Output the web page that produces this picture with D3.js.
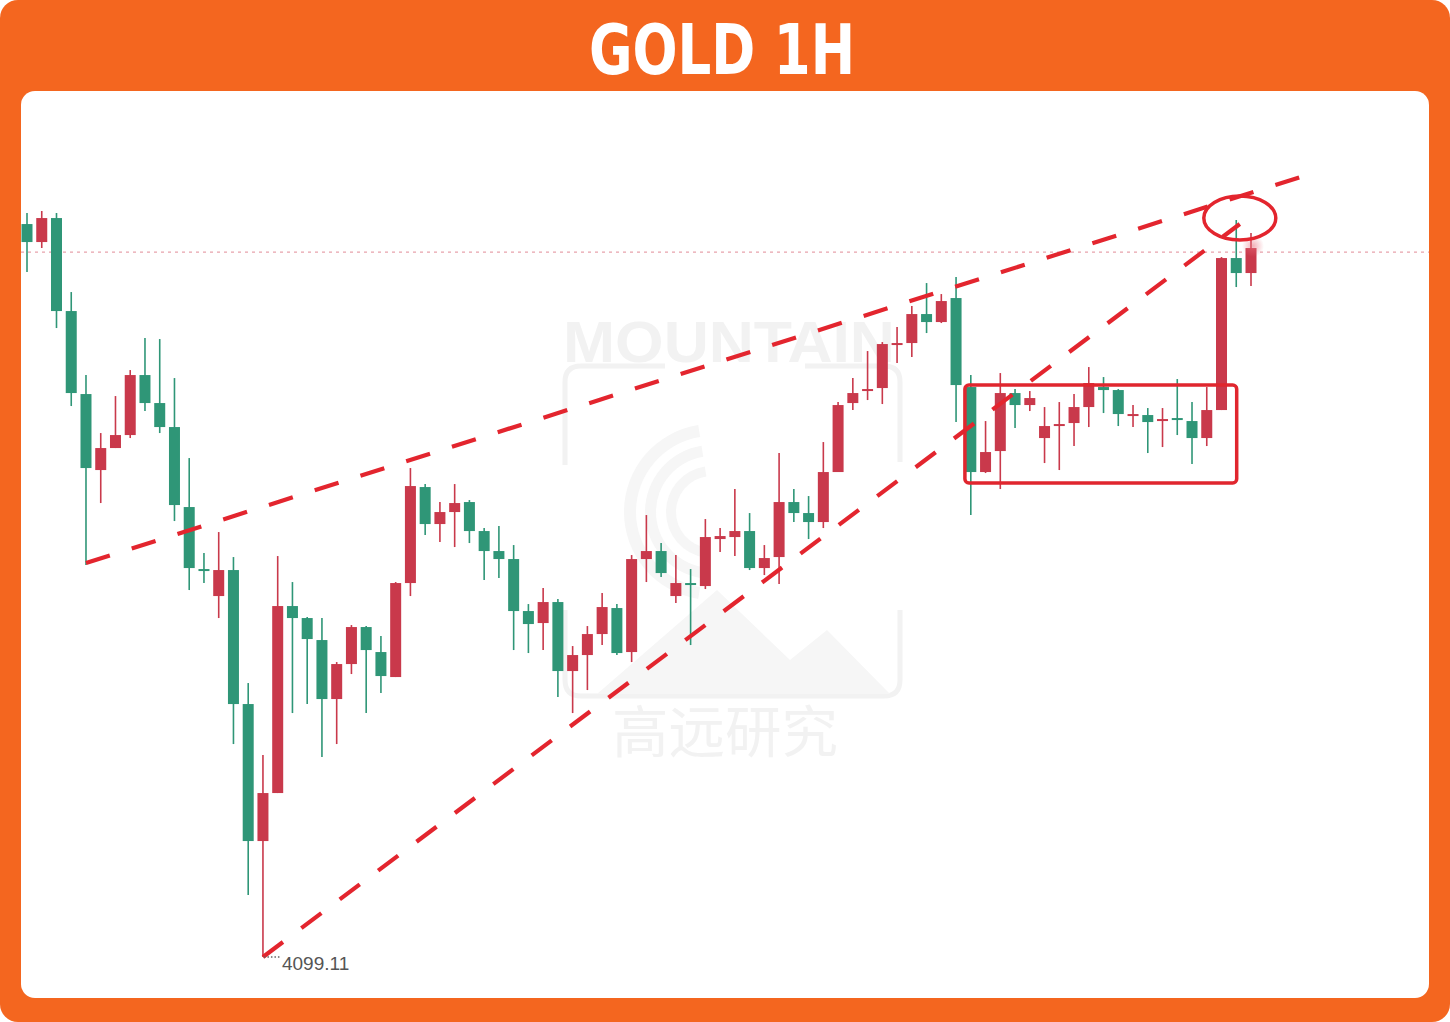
<!DOCTYPE html>
<html>
<head>
<meta charset="utf-8">
<script src="https://cdn.jsdelivr.net/npm/d3@7/dist/d3.min.js"></script>
<style>
  html, body { margin: 0; padding: 0; background: #fff; }
  svg { display: block; }
</style>
</head>
<body>
<div id="chart"></div>
<script>
// Data (hourly candles)

const title = 'GOLD 1H';
const opens = [4245.7, 4242.1, 4246.9, 4228.3, 4211.7, 4196.5, 4200.9, 4203.5, 4215.5, 4209.9,
    4205.1, 4189.1, 4176.7, 4171.3, 4176.5, 4149.7, 4122.3, 4131.9, 4169.3, 4166.9,
    4162.5, 4150.7, 4157.7, 4165.1, 4160.1, 4155.1, 4173.9, 4193.1, 4185.7, 4188.1,
    4190.1, 4184.3, 4180.3, 4178.7, 4168.3, 4165.9, 4170.1, 4156.3, 4159.5, 4163.7,
    4168.9, 4160.1, 4178.7, 4180.3, 4171.3, 4173.9, 4173.3, 4182.7, 4183.1, 4184.3,
    4176.9, 4179.1, 4190.1, 4187.9, 4186.1, 4196.1, 4209.9, 4212.5, 4212.9, 4221.7,
    4221.9, 4227.7, 4226.1, 4230.9, 4213.1, 4196.1, 4200.3, 4211.9, 4209.5, 4202.9,
    4205.3, 4205.9, 4209.1, 4213.1, 4212.5, 4207.3, 4207.5, 4206.3, 4206.9, 4206.3,
    4202.9, 4208.5, 4238.9, 4235.9];
const highs = [4247.9, 4248.3, 4247.9, 4232.1, 4215.5, 4203.9, 4211.3, 4216.5, 4222.9, 4222.7,
    4214.9, 4198.9, 4179.9, 4184.1, 4179.1, 4153.9, 4139.5, 4179.3, 4174.1, 4167.1,
    4166.9, 4158.1, 4165.5, 4165.3, 4163.3, 4174.1, 4196.9, 4193.7, 4190.1, 4193.7,
    4190.5, 4184.9, 4185.3, 4181.5, 4169.7, 4172.9, 4170.7, 4161.3, 4165.3, 4171.9,
    4169.7, 4179.5, 4187.5, 4181.9, 4179.5, 4176.7, 4186.7, 4184.9, 4192.7, 4187.9,
    4181.5, 4199.9, 4192.7, 4191.3, 4202.1, 4210.1, 4214.9, 4220.3, 4222.1, 4225.1,
    4229.3, 4233.9, 4231.7, 4235.1, 4215.5, 4206.3, 4215.9, 4212.7, 4212.3, 4209.1,
    4210.1, 4211.7, 4217.1, 4215.1, 4212.7, 4209.5, 4208.9, 4208.9, 4214.7, 4210.1,
    4213.1, 4239.1, 4246.5, 4243.9];
const lows = [4236.1, 4240.9, 4224.9, 4209.3, 4177.5, 4189.9, 4200.9, 4202.9, 4208.3, 4203.9,
    4186.3, 4172.5, 4173.9, 4166.9, 4141.7, 4111.5, 4099.11, 4131.9, 4147.9, 4149.7,
    4139.1, 4141.7, 4155.7, 4147.9, 4151.9, 4155.1, 4171.3, 4183.5, 4182.1, 4181.1,
    4181.9, 4174.5, 4174.9, 4160.5, 4159.9, 4160.5, 4151.1, 4147.9, 4152.5, 4161.5,
    4159.5, 4158.1, 4174.1, 4175.1, 4169.9, 4161.5, 4172.7, 4180.1, 4179.3, 4176.5,
    4175.5, 4173.7, 4186.1, 4182.7, 4184.9, 4196.1, 4208.5, 4210.5, 4209.7, 4217.9,
    4219.1, 4223.9, 4225.9, 4206.1, 4187.5, 4195.9, 4192.7, 4204.9, 4208.3, 4197.9,
    4196.5, 4201.3, 4205.1, 4207.9, 4205.3, 4205.1, 4199.9, 4201.1, 4203.5, 4197.7,
    4201.3, 4208.5, 4233.1, 4233.3];
const closes = [4242.1, 4246.9, 4228.3, 4211.9, 4196.9, 4200.9, 4203.5, 4215.5, 4209.9, 4205.1,
    4189.5, 4176.9, 4176.5, 4176.5, 4149.7, 4122.3, 4131.9, 4169.3, 4166.9, 4162.7,
    4150.7, 4157.7, 4165.1, 4160.5, 4155.3, 4173.9, 4193.3, 4185.7, 4188.1, 4189.9,
    4184.3, 4180.3, 4178.7, 4168.3, 4165.7, 4170.1, 4156.3, 4159.5, 4163.7, 4169.1,
    4159.9, 4178.7, 4180.3, 4175.9, 4173.9, 4173.5, 4183.1, 4183.3, 4184.3, 4176.9,
    4178.9, 4190.1, 4187.9, 4186.1, 4196.1, 4209.5, 4211.9, 4212.7, 4221.7, 4221.9,
    4227.7, 4226.1, 4230.3, 4213.5, 4196.1, 4200.1, 4211.9, 4209.5, 4210.9, 4205.3,
    4205.7, 4209.1, 4213.9, 4212.5, 4207.7, 4207.7, 4206.1, 4206.7, 4206.5, 4202.9,
    4208.5, 4238.9, 4235.9, 4240.9];

const lowLabel = '4099.11';
const lastPrice = 4240.1;

// Drawn annotations, as [candle index, price]
const upperTrend = [[4, 4177.9], [87, 4255.7]];
const lowerTrend = [[16, 4099.11], [82.24, 4245.7]];
const boxIndex = [63.6, 82.03];
const boxPrice = [4193.9, 4213.5];
const markPoint = [82.24, 4246.9];

const watermarkLatin = 'MOUNTAIN';
const watermarkCJK = '高远研究';

function candleChart() {
    const width = 1450;
    const height = 1022;
    const panel = {x: 21, y: 91, w: 1408, h: 907};
    const bodyWidth = 11;

    const up = '#c9394b';
    const down = '#2f9677';
    const pen = '#e3252e';

    let svg, xScale, yScale, plot;

    const candles = opens.map((o, i) => ({i, o, h: highs[i], l: lows[i], c: closes[i]}));

    function buildScales() {
        xScale = d3.scaleLinear().domain([0, candles.length - 1]).range([27, 1251]);
        yScale = d3.scaleLinear().domain([4099.11, 4248.11]).range([957, 212]);
    }

    function buildSVG() {
        svg = d3.select('#chart').append('svg')
            .attr('width', width)
            .attr('height', height);

        svg.append('rect')
            .attr('width', width).attr('height', height)
            .attr('rx', 18)
            .attr('fill', '#f4661f');

        svg.append('text')
            .attr('x', 722).attr('y', 74)
            .attr('text-anchor', 'middle')
            .attr('fill', '#fff')
            .attr('font-family', '"DejaVu Sans Condensed", "DejaVu Sans", sans-serif')
            .attr('font-weight', 'bold')
            .attr('font-size', 70)
            .attr('textLength', 266)
            .attr('lengthAdjust', 'spacingAndGlyphs')
            .text(title);

        const defs = svg.append('defs');
        defs.append('clipPath').attr('id', 'panel-clip')
            .append('rect')
            .attr('x', panel.x).attr('y', panel.y)
            .attr('width', panel.w).attr('height', panel.h)
            .attr('rx', 14);
        const glow = defs.append('radialGradient').attr('id', 'glow');
        glow.append('stop').attr('offset', '0%').attr('stop-color', '#e8707e').attr('stop-opacity', 0.55);
        glow.append('stop').attr('offset', '100%').attr('stop-color', '#e8707e').attr('stop-opacity', 0);

        svg.append('rect')
            .attr('x', panel.x).attr('y', panel.y)
            .attr('width', panel.w).attr('height', panel.h)
            .attr('rx', 14)
            .attr('fill', '#fff');

        plot = svg.append('g').attr('clip-path', 'url(#panel-clip)');
    }

    function drawWatermark() {
        const wm = plot.append('g').attr('class', 'watermark');
        const faint = '#f2f2f2';
        const fainter = '#f6f6f6';

        wm.append('text')
            .attr('x', 563).attr('y', 362)
            .attr('fill', faint)
            .attr('font-family', '"Liberation Sans", Arial, sans-serif')
            .attr('font-weight', 'bold')
            .attr('font-size', 58)
            .attr('textLength', 332)
            .attr('lengthAdjust', 'spacingAndGlyphs')
            .text(watermarkLatin);

        wm.append('path')
            .attr('d', 'M565,465 V382 Q565,366 581,366 H665 M805,366 H884 Q900,366 900,382 V462 M900,610 V680 Q900,696 884,696 H581 Q565,696 565,680 V610')
            .attr('fill', 'none')
            .attr('stroke', faint)
            .attr('stroke-width', 5);

        const arc = d3.arc();
        [[76, 88], [56, 67], [36, 46]].forEach(([r0, r1]) => {
            wm.append('path')
                .attr('transform', 'translate(712,512)')
                .attr('d', arc({innerRadius: r0, outerRadius: r1, startAngle: -Math.PI * 0.05, endAngle: -Math.PI * 0.95}))
                .attr('fill', fainter);
        });

        wm.append('path')
            .attr('d', 'M597,694 L717,590 L790,660 L827,630 L890,694 Z')
            .attr('fill', fainter);

        wm.append('text')
            .attr('x', 612).attr('y', 752)
            .attr('fill', faint)
            .attr('font-family', '"Noto Sans CJK SC", sans-serif')
            .attr('font-size', 56)
            .attr('textLength', 226)
            .attr('lengthAdjust', 'spacingAndGlyphs')
            .text(watermarkCJK);
    }

    function drawPriceLine() {
        plot.append('line')
            .attr('x1', panel.x).attr('x2', panel.x + panel.w)
            .attr('y1', yScale(lastPrice)).attr('y2', yScale(lastPrice))
            .attr('stroke', '#e7a2ac')
            .attr('stroke-width', 1.3)
            .attr('stroke-dasharray', '3 4');
    }

    function drawCandles() {
        const g = plot.append('g').attr('class', 'candles');
        const colour = d => d.c >= d.o ? up : down;

        g.selectAll('.wick')
            .data(candles)
            .enter().append('line')
            .attr('class', 'wick')
            .attr('x1', d => xScale(d.i)).attr('x2', d => xScale(d.i))
            .attr('y1', d => yScale(d.h)).attr('y2', d => yScale(d.l))
            .attr('stroke', colour)
            .attr('stroke-width', 1.6);

        g.selectAll('.body')
            .data(candles)
            .enter().append('rect')
            .attr('class', 'body')
            .attr('x', d => xScale(d.i) - bodyWidth / 2)
            .attr('width', bodyWidth)
            .attr('y', d => yScale(Math.max(d.o, d.c)))
            .attr('height', d => Math.max(2, Math.abs(yScale(d.o) - yScale(d.c))))
            .attr('fill', colour);

        // cursor glow on the last candle
        const last = candles[candles.length - 1];
        plot.append('circle')
            .attr('cx', xScale(last.i) + 2).attr('cy', yScale(last.c) - 2)
            .attr('r', 11)
            .attr('fill', 'url(#glow)');
    }

    function drawAnnotations() {
        const g = plot.append('g').attr('class', 'annotations');
        const line = d3.line().x(d => xScale(d[0])).y(d => yScale(d[1]));

        [upperTrend, lowerTrend].forEach(pts => {
            g.append('path')
                .attr('d', line(pts))
                .attr('fill', 'none')
                .attr('stroke', pen)
                .attr('stroke-width', 4.2)
                .attr('stroke-dasharray', '25 23');
        });

        g.append('rect')
            .attr('x', xScale(boxIndex[0]))
            .attr('y', yScale(boxPrice[1]))
            .attr('width', xScale(boxIndex[1]) - xScale(boxIndex[0]))
            .attr('height', yScale(boxPrice[0]) - yScale(boxPrice[1]))
            .attr('rx', 4)
            .attr('fill', 'none')
            .attr('stroke', '#e0262e')
            .attr('stroke-width', 3.5);

        g.append('ellipse')
            .attr('cx', xScale(markPoint[0]))
            .attr('cy', yScale(markPoint[1]))
            .attr('rx', 36).attr('ry', 22)
            .attr('fill', 'none')
            .attr('stroke', pen)
            .attr('stroke-width', 3.5);

        // low marker
        const lx = xScale(16), ly = yScale(4099.11);
        g.append('line')
            .attr('x1', lx + 1).attr('x2', lx + 18)
            .attr('y1', ly).attr('y2', ly)
            .attr('stroke', '#666')
            .attr('stroke-width', 1.3)
            .attr('stroke-dasharray', '1.5 2');
        g.append('text')
            .attr('x', lx + 19).attr('y', ly + 13)
            .attr('fill', '#555')
            .attr('font-family', '"Liberation Sans", Arial, sans-serif')
            .attr('font-size', 19)
            .text(lowLabel);
    }

    buildScales();
    buildSVG();
    drawWatermark();
    drawPriceLine();
    drawCandles();
    drawAnnotations();
}

candleChart();
</script>
</body>
</html>
